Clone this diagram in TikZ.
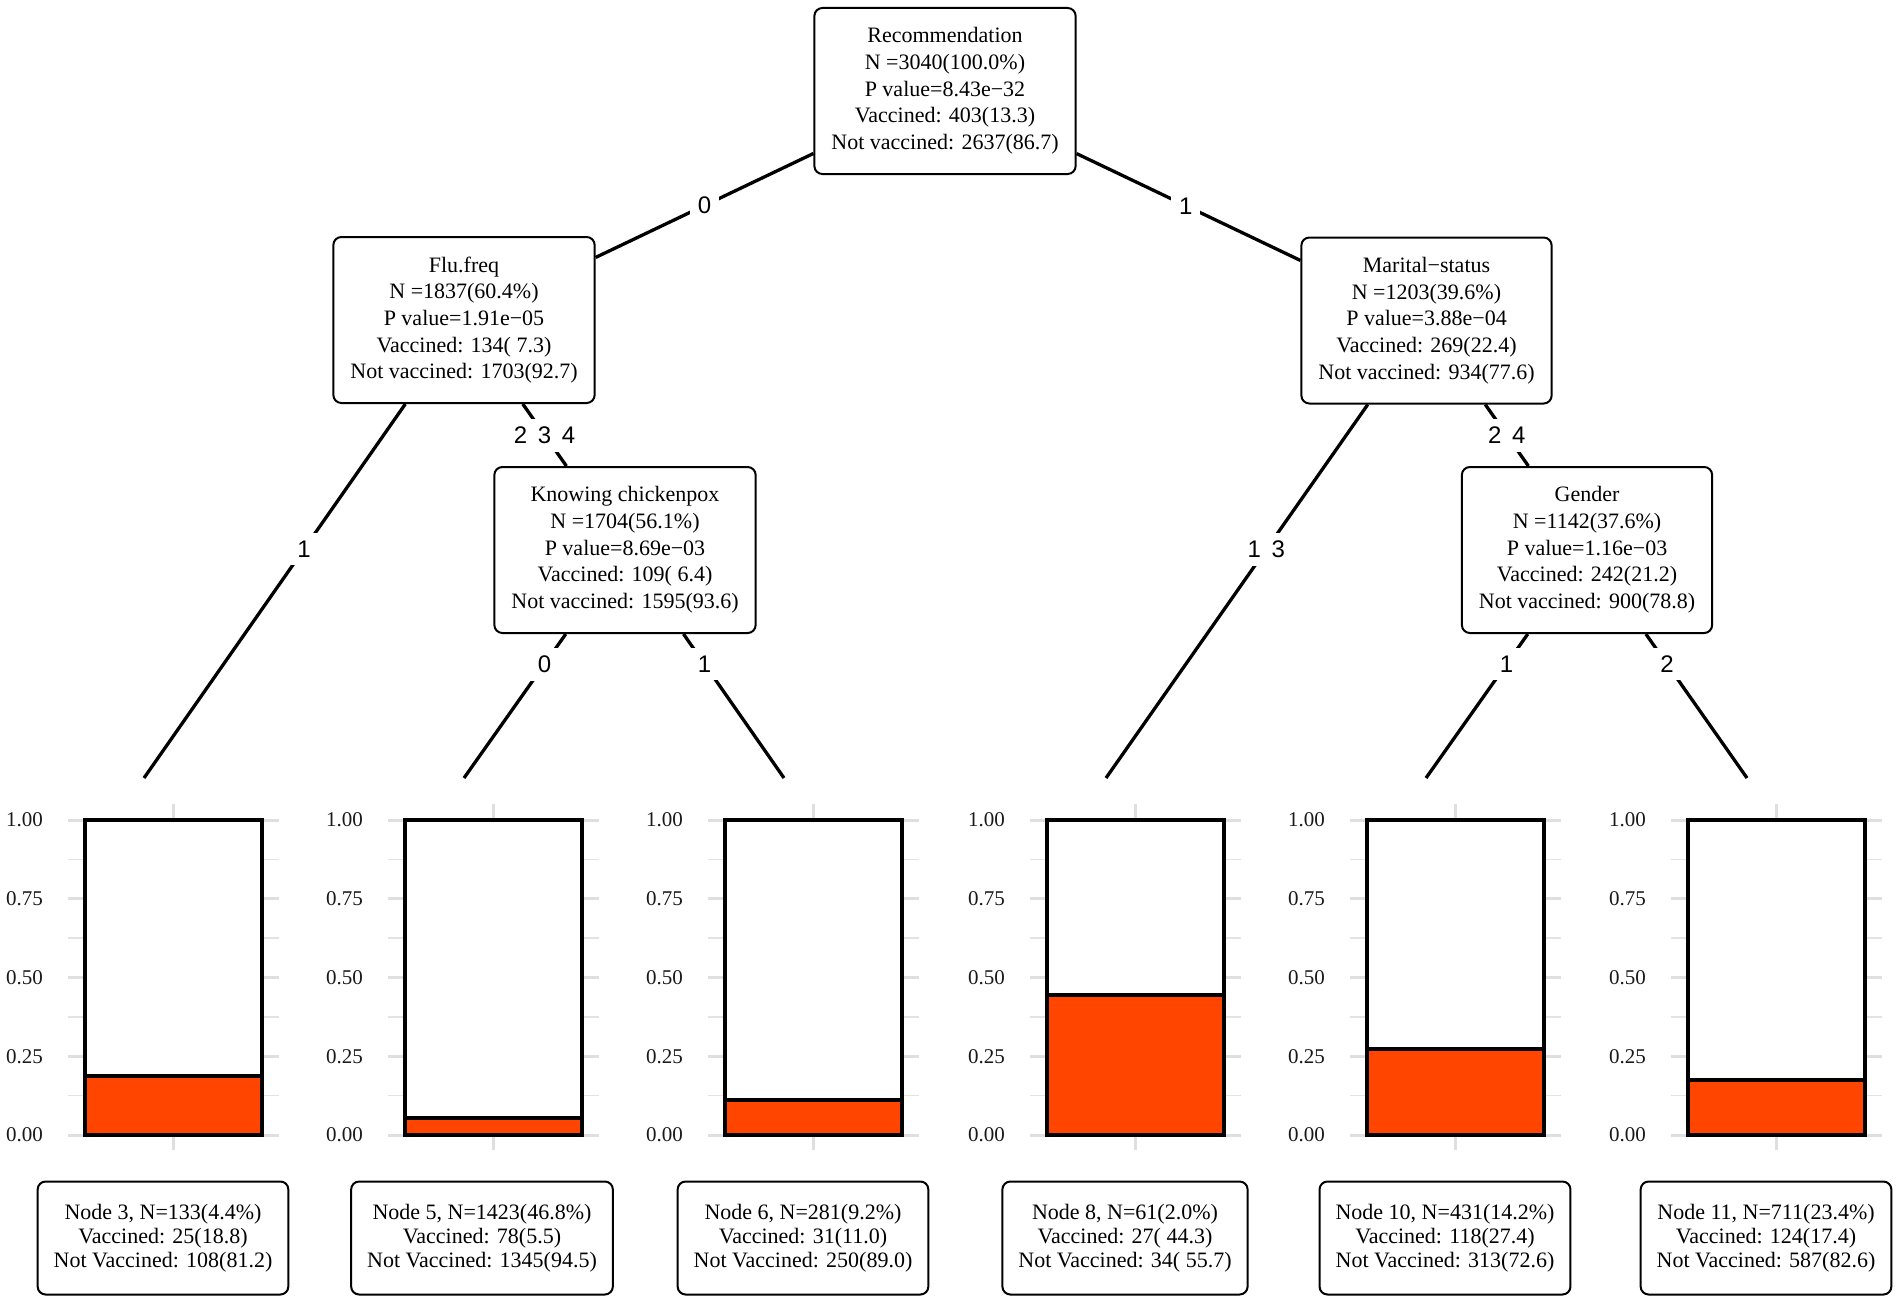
\documentclass[tikz,border=0pt]{standalone}
\usepackage{fontspec}
\setmainfont{Liberation Serif}
\setsansfont{Liberation Sans}
\usetikzlibrary{calc}
\definecolor{vacc}{HTML}{FF4500}
\tikzset{
  basic/.style     = {draw, rounded corners=8pt, line width=2pt, fill=white, align=center},
  splitnode/.style = {basic, inner xsep=17pt, minimum height=166pt,
                      font=\fontsize{22}{26.7}\selectfont},
  leafnode/.style  = {basic, inner xsep=16pt, minimum height=113pt,
                      font=\fontsize{22}{24.2}\selectfont},
  branch/.style    = {line width=3.3pt},
  lbl/.style       = {fill=white, inner sep=8pt, font=\sffamily\fontsize{24}{28}\selectfont},
  ticklbl/.style   = {inner sep=0pt, anchor=east, text=black!90, font=\fontsize{21}{24}\selectfont},
  gridmaj/.style   = {line width=3pt, gray!25},
  gridmin/.style   = {line width=1.5pt, gray!22},
  barbox/.style    = {line width=4pt}
}

\begin{document}
\begin{tikzpicture}[x=1pt, y=-1pt]
\useasboundingbox (0,0) rectangle (1902,1303);

% bar panels of the terminal nodes
\foreach \bx/\fr/\nm in {85/0.188/3, 405/0.055/5, 725/0.110/6, 1047/0.443/8, 1367/0.274/10, 1688/0.174/11}{
  \foreach \k in {1,3,5,7}
    \draw[gridmin] (\bx-17,{1135-\k*39.375}) -- (\bx+194,{1135-\k*39.375});
  \foreach \k/\tk in {0/0.00,2/0.25,4/0.50,6/0.75,8/1.00}{
    \draw[gridmaj] (\bx-17,{1135-\k*39.375}) -- (\bx+194,{1135-\k*39.375});
    \node[ticklbl] (tk\nm-\k) at (\bx-42,{1135-\k*39.375}) {\tk};
  }
  \draw[gridmaj] (\bx+88.5,804) -- (\bx+88.5,1150);
  \draw[barbox, fill=white] (\bx,820) rectangle (\bx+177,{1135-\fr*315});
  \draw[barbox, fill=vacc] (\bx,{1135-\fr*315}) rectangle (\bx+177,1135);
  \coordinate (t\nm) at (\bx+59,778);
}

% inner nodes of the tree
\node[splitnode] (n1) at (945,91) {Recommendation\\N =3040(100.0\%)\\P value=8.43e−32\\Vaccined: 403(13.3)\\Not vaccined: 2637(86.7)};
\node[splitnode] (n2) at (464,320) {Flu.freq\\N =1837(60.4\%)\\P value=1.91e−05\\Vaccined: 134( 7.3)\\Not vaccined: 1703(92.7)};
\node[splitnode] (n4) at (625,550) {Knowing chickenpox\\N =1704(56.1\%)\\P value=8.69e−03\\Vaccined: 109( 6.4)\\Not vaccined: 1595(93.6)};
\node[splitnode] (n7) at (1426.5,320.5) {Marital−status\\N =1203(39.6\%)\\P value=3.88e−04\\Vaccined: 269(22.4)\\Not vaccined: 934(77.6)};
\node[splitnode] (n9) at (1587,550) {Gender\\N =1142(37.6\%)\\P value=1.16e−03\\Vaccined: 242(21.2)\\Not vaccined: 900(78.8)};

% branches with their labels
\foreach \a/\b/\txt in {n1/n2/0, n1/n7/1, n2/t3/1, n2/n4/2~\,3~\,4, n4/t5/0, n4/t6/1,
                        n7/t8/1~\,3, n7/n9/2~\,4, n9/t10/1, n9/t11/2}{
  \draw[branch] (\a) -- (\b);
  \node[lbl] (l\b) at ($(\a)!.5!(\b)$) {\txt};
}

% terminal node labels
\node[leafnode] (leaf3) at (163,1238) {Node 3, N=133(4.4\%)\\Vaccined: 25(18.8)\\Not Vaccined: 108(81.2)};
\node[leafnode] (leaf5) at (482,1238) {Node 5, N=1423(46.8\%)\\Vaccined: 78(5.5)\\Not Vaccined: 1345(94.5)};
\node[leafnode] (leaf6) at (803,1238) {Node 6, N=281(9.2\%)\\Vaccined: 31(11.0)\\Not Vaccined: 250(89.0)};
\node[leafnode] (leaf8) at (1125,1238) {Node 8, N=61(2.0\%)\\Vaccined: 27( 44.3)\\Not Vaccined: 34( 55.7)};
\node[leafnode] (leaf10) at (1445,1238) {Node 10, N=431(14.2\%)\\Vaccined: 118(27.4)\\Not Vaccined: 313(72.6)};
\node[leafnode] (leaf11) at (1766,1238) {Node 11, N=711(23.4\%)\\Vaccined: 124(17.4)\\Not Vaccined: 587(82.6)};

\end{tikzpicture}
\end{document}
